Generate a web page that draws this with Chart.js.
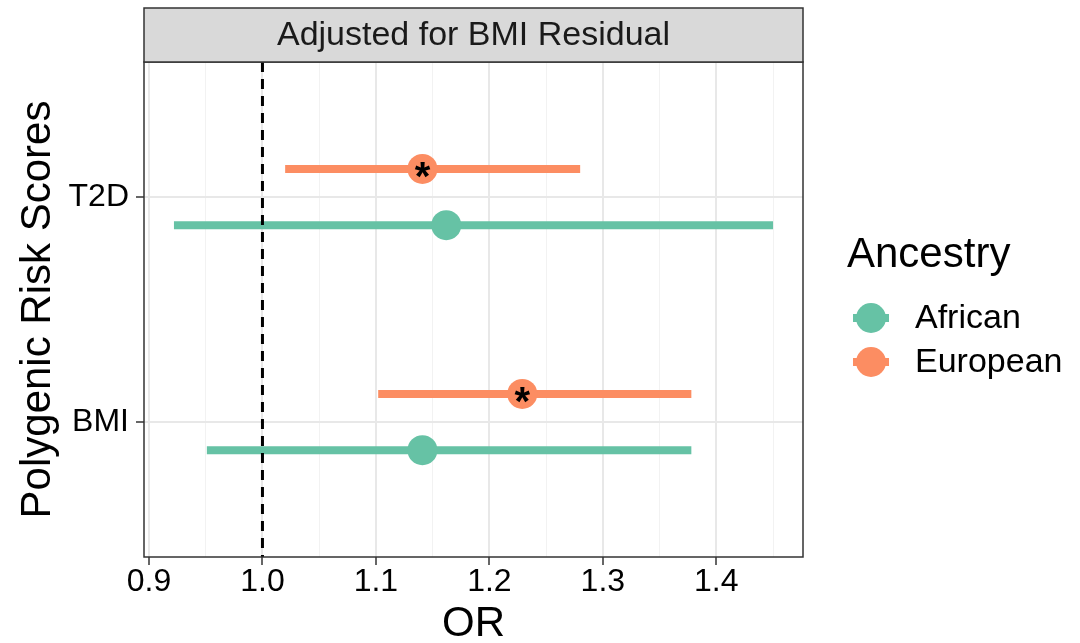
<!DOCTYPE html>
<html>
<head>
<meta charset="utf-8">
<script src="https://cdn.jsdelivr.net/npm/chart.js@4.4.0/dist/chart.umd.min.js"></script>
<style>
  html, body { margin: 0; padding: 0; background: #fff; }
  #wrap { width: 1080px; height: 643px; }
</style>
</head>
<body>
<div id="wrap"><canvas id="forestChart" width="1080" height="643"></canvas></div>
<script>
// ---- data ----
const categories = ['BMI', 'T2D'];          // y positions 1, 2
const groups = ['African', 'European'];
const africanOR   = [1.141, 1.162];
const africanLow  = [0.951, 0.922];
const africanHigh = [1.378, 1.450];
const europeanOR   = [1.229, 1.141];
const europeanLow  = [1.102, 1.020];
const europeanHigh = [1.378, 1.280];
const europeanStar = ['*', '*'];
const africanStar  = ['', ''];
const xMajorTicks = [0.9, 1.0, 1.1, 1.2, 1.3, 1.4];
const xMinorTicks = [0.95, 1.05, 1.15, 1.25, 1.35, 1.45];
const refLine = 1.0;

const colors = { African: '#66c2a5', European: '#fc8d62' };
const dodge = { African: -0.125, European: 0.125 };
const FONT = '"Liberation Sans", Arial, Helvetica, sans-serif';

const series = {
    African: { or: africanOR, lo: africanLow, hi: africanHigh, star: africanStar },
    European: { or: europeanOR, lo: europeanLow, hi: europeanHigh, star: europeanStar }
};

// ggplot-like 5% expansion of the x range
const allX = [].concat(africanLow, africanHigh, europeanLow, europeanHigh);
const xMinData = Math.min(...allX), xMaxData = Math.max(...allX);
const xPad = (xMaxData - xMinData) * 0.05;

function isMajor(v) {
    return xMajorTicks.some(t => Math.abs(t - v) < 1e-9);
}

// build datasets: one line per CI, one point set per group
const datasets = [];
groups.forEach(g => {
    const s = series[g];
    categories.forEach((c, i) => {
        const y = i + 1 + dodge[g];
        datasets.push({
            type: 'scatter',
            label: g + ' CI ' + c,
            data: [{ x: s.lo[i], y: y }, { x: s.hi[i], y: y }],
            showLine: true,
            borderColor: colors[g],
            borderWidth: 8,
            borderCapStyle: 'butt',
            pointRadius: 0,
            pointHoverRadius: 0,
            order: 2
        });
    });
});
groups.forEach(g => {
    const s = series[g];
    datasets.push({
        type: 'scatter',
        label: g,
        data: categories.map((c, i) => ({ x: s.or[i], y: i + 1 + dodge[g], star: s.star[i] })),
        backgroundColor: colors[g],
        borderColor: colors[g],
        borderWidth: 0,
        pointRadius: 15,
        pointHoverRadius: 15,
        order: 1
    });
});

const decorPlugin = {
    id: 'decor',
    beforeDraw(chart) {
        const ctx = chart.ctx;
        ctx.save();
        ctx.fillStyle = '#fff';
        ctx.fillRect(0, 0, chart.width, chart.height);
        ctx.restore();
    },
    afterDatasetsDraw(chart) {
        const ctx = chart.ctx;
        const area = chart.chartArea;
        const xs = chart.scales.x;
        // reference line
        const xr = xs.getPixelForValue(refLine);
        ctx.save();
        ctx.strokeStyle = '#000';
        ctx.lineWidth = 3;
        ctx.setLineDash([10, 7]);
        ctx.beginPath();
        ctx.moveTo(xr, area.top);
        ctx.lineTo(xr, area.bottom);
        ctx.stroke();
        ctx.restore();

        // significance stars on the points
        ctx.save();
        ctx.fillStyle = '#000';
        ctx.font = 'bold 40px ' + FONT;
        ctx.textAlign = 'center';
        ctx.textBaseline = 'middle';
        chart.data.datasets.forEach((ds, di) => {
            if (ds.pointRadius !== 15) return;
            const meta = chart.getDatasetMeta(di);
            meta.data.forEach((pt, i) => {
                const star = ds.data[i].star;
                if (star) ctx.fillText(star, pt.x, pt.y + 10);
            });
        });
        ctx.restore();
    },
    afterDraw(chart) {
        const ctx = chart.ctx;
        const area = chart.chartArea;
        ctx.save();
        // panel border
        ctx.strokeStyle = '#333';
        ctx.lineWidth = 1.5;
        ctx.strokeRect(area.left, area.top, area.right - area.left, area.bottom - area.top);
        // facet strip
        const stripTop = 8;
        ctx.fillStyle = '#d9d9d9';
        ctx.fillRect(area.left, stripTop, area.right - area.left, area.top - stripTop);
        ctx.strokeRect(area.left, stripTop, area.right - area.left, area.top - stripTop);
        ctx.fillStyle = '#1a1a1a';
        ctx.font = '34px ' + FONT;
        ctx.textAlign = 'center';
        ctx.textBaseline = 'middle';
        ctx.fillText('Adjusted for BMI Residual', (area.left + area.right) / 2, (stripTop + area.top) / 2 + 1);

        // legend
        ctx.fillStyle = '#000';
        ctx.textAlign = 'left';
        ctx.font = '42px ' + FONT;
        ctx.fillText('Ancestry', 847, 255);
        ctx.font = '34px ' + FONT;
        groups.forEach((g, i) => {
            const cy = 318 + i * 44;
            const cx = 871;
            ctx.strokeStyle = colors[g];
            ctx.lineWidth = 8;
            ctx.beginPath();
            ctx.moveTo(cx - 18, cy);
            ctx.lineTo(cx + 18, cy);
            ctx.stroke();
            ctx.fillStyle = colors[g];
            ctx.beginPath();
            ctx.arc(cx, cy, 15, 0, Math.PI * 2);
            ctx.fill();
            ctx.fillStyle = '#000';
            ctx.fillText(g, 915, cy + 1);
        });
        ctx.restore();
    }
};

new Chart(document.getElementById('forestChart'), {
    type: 'scatter',
    data: { datasets: datasets },
    plugins: [decorPlugin],
    options: {
        responsive: false,
        animation: false,
        devicePixelRatio: 1,
        events: [],
        layout: { padding: { left: 0, right: 277, top: 62, bottom: 0 } },
        plugins: { legend: { display: false }, tooltip: { enabled: false } },
        scales: {
            x: {
                type: 'linear',
                min: xMinData - xPad,
                max: xMaxData + xPad,
                afterFit(scale) { scale.height = 86; },
                afterBuildTicks(scale) {
                    scale.ticks = xMajorTicks.concat(xMinorTicks)
                        .sort((a, b) => a - b)
                        .map(v => ({ value: v }));
                },
                border: { display: false },
                grid: {
                    color: ctx => isMajor(ctx.tick.value) ? '#e8e8e8' : '#f2f2f2',
                    lineWidth: ctx => isMajor(ctx.tick.value) ? 2 : 1,
                    tickColor: ctx => isMajor(ctx.tick.value) ? '#333' : 'rgba(0,0,0,0)',
                    tickLength: 8,
                    tickWidth: 1.5
                },
                ticks: {
                    autoSkip: false,
                    maxRotation: 0,
                    padding: -2,
                    color: '#000',
                    font: { family: FONT, size: 32 },
                    callback: v => isMajor(v) ? v.toFixed(1) : ''
                },
                title: {
                    display: true,
                    text: 'OR',
                    color: '#000',
                    font: { family: FONT, size: 42, lineHeight: 1 },
                    padding: { top: 0, bottom: -2 }
                }
            },
            y: {
                type: 'linear',
                min: 0.4,
                max: 2.6,
                afterFit(scale) { scale.width = 144; },
                afterBuildTicks(scale) {
                    scale.ticks = categories.map((c, i) => ({ value: i + 1 }));
                },
                border: { display: false },
                grid: {
                    color: '#e8e8e8',
                    lineWidth: 2,
                    tickColor: '#333',
                    tickLength: 8,
                    tickWidth: 1.5
                },
                ticks: {
                    padding: 7,
                    color: '#000',
                    font: { family: FONT, size: 32 },
                    callback: v => categories[Math.round(v) - 1] || ''
                },
                title: {
                    display: true,
                    text: 'Polygenic Risk Scores',
                    color: '#000',
                    font: { family: FONT, size: 42, lineHeight: 1.2 },
                    padding: { top: 13, bottom: 0 }
                }
            }
        }
    }
});
</script>
</body>
</html>
